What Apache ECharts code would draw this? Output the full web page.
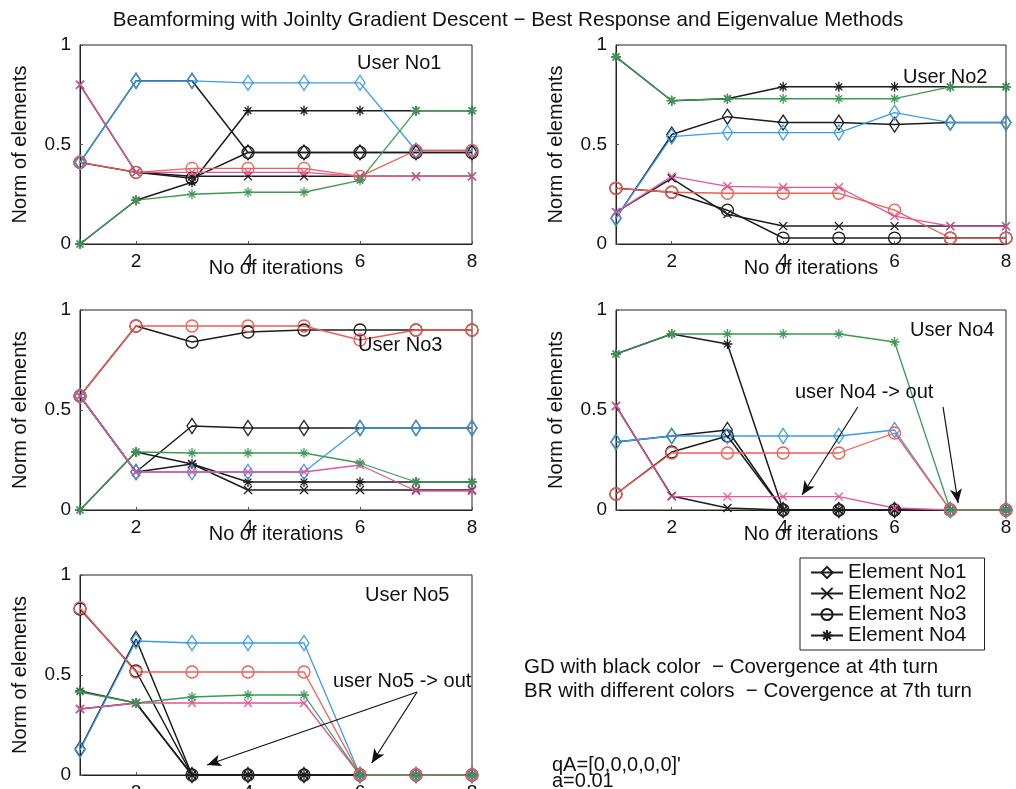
<!DOCTYPE html>
<html><head><meta charset="utf-8">
<script src="https://cdn.jsdelivr.net/npm/echarts@6/dist/echarts.min.js"></script>
<style>html,body{margin:0;padding:0;background:#fff}#c{width:1016px;height:789px}</style>
</head><body><div id="c"></div>
<script>
// ---------- data ----------
const iterations = [1, 2, 3, 4, 5, 6, 7, 8];
const xTickValues = [2, 4, 6, 8];
const elementNames = ['Element No1', 'Element No2', 'Element No3', 'Element No4'];
const userLabels = ['User No1', 'User No2', 'User No3', 'User No4', 'User No5'];
const chartTitle = 'Beamforming with Joinlty Gradient Descent \u2212 Best Response and Eigenvalue Methods';

// GD (black) – rows: element 1..4
const user1GD = [
  [0.41, 0.82, 0.82, 0.46, 0.46, 0.46, 0.46, 0.46],
  [0.80, 0.36, 0.34, 0.34, 0.34, 0.34, 0.34, 0.34],
  [0.41, 0.36, 0.33, 0.46, 0.46, 0.46, 0.46, 0.46],
  [0.00, 0.22, 0.31, 0.67, 0.67, 0.67, 0.67, 0.67]
];
const user2GD = [
  [0.13, 0.55, 0.64, 0.61, 0.61, 0.60, 0.61, 0.61],
  [0.16, 0.33, 0.15, 0.09, 0.09, 0.09, 0.09, 0.09],
  [0.28, 0.26, 0.17, 0.03, 0.03, 0.03, 0.03, 0.03],
  [0.94, 0.72, 0.73, 0.79, 0.79, 0.79, 0.79, 0.79]
];
const user3GD = [
  [0.57, 0.19, 0.42, 0.41, 0.41, 0.41, 0.41, 0.41],
  [0.57, 0.19, 0.23, 0.10, 0.10, 0.10, 0.10, 0.10],
  [0.57, 0.92, 0.84, 0.89, 0.90, 0.90, 0.90, 0.90],
  [0.00, 0.29, 0.23, 0.14, 0.14, 0.14, 0.14, 0.14]
];
const user4GD = [
  [0.34, 0.37, 0.40, 0.00, 0.00, 0.00, 0.00, 0.00],
  [0.52, 0.07, 0.01, 0.00, 0.00, 0.00, 0.00, 0.00],
  [0.08, 0.29, 0.37, 0.00, 0.00, 0.00, 0.00, 0.00],
  [0.78, 0.88, 0.83, 0.00, 0.00, 0.00, 0.00, 0.00]
];
const user5GD = [
  [0.13, 0.68, 0.00, 0.00, 0.00, 0.00, 0.00, 0.00],
  [0.33, 0.36, 0.00, 0.00, 0.00, 0.00, 0.00, 0.00],
  [0.83, 0.52, 0.00, 0.00, 0.00, 0.00, 0.00, 0.00],
  [0.42, 0.36, 0.00, 0.00, 0.00, 0.00, 0.00, 0.00]
];

// BR (coloured) – rows: element 1..4
const user1BR = [
  [0.41, 0.82, 0.82, 0.81, 0.81, 0.81, 0.47, 0.47],
  [0.80, 0.36, 0.36, 0.36, 0.36, 0.34, 0.34, 0.34],
  [0.41, 0.36, 0.38, 0.38, 0.38, 0.34, 0.47, 0.47],
  [0.00, 0.22, 0.25, 0.26, 0.26, 0.32, 0.67, 0.67]
];
const user2BR = [
  [0.13, 0.54, 0.56, 0.56, 0.56, 0.66, 0.61, 0.61],
  [0.16, 0.34, 0.29, 0.285, 0.285, 0.14, 0.09, 0.09],
  [0.28, 0.26, 0.255, 0.255, 0.255, 0.17, 0.03, 0.03],
  [0.94, 0.72, 0.73, 0.73, 0.73, 0.73, 0.79, 0.79]
];
const user3BR = [
  [0.57, 0.19, 0.19, 0.19, 0.19, 0.41, 0.41, 0.41],
  [0.57, 0.19, 0.19, 0.19, 0.19, 0.225, 0.095, 0.095],
  [0.57, 0.92, 0.92, 0.92, 0.92, 0.85, 0.90, 0.90],
  [0.00, 0.29, 0.285, 0.285, 0.285, 0.235, 0.14, 0.14]
];
const user4BR = [
  [0.34, 0.37, 0.37, 0.37, 0.37, 0.40, 0.00, 0.00],
  [0.52, 0.067, 0.067, 0.067, 0.067, 0.01, 0.00, 0.00],
  [0.08, 0.285, 0.285, 0.285, 0.285, 0.385, 0.00, 0.00],
  [0.78, 0.88, 0.88, 0.88, 0.88, 0.84, 0.00, 0.00]
];
const user5BR = [
  [0.125, 0.67, 0.66, 0.66, 0.66, 0.00, 0.00, 0.00],
  [0.33, 0.36, 0.36, 0.36, 0.36, 0.00, 0.00, 0.00],
  [0.835, 0.515, 0.515, 0.515, 0.515, 0.00, 0.00, 0.00],
  [0.415, 0.36, 0.39, 0.40, 0.40, 0.00, 0.00, 0.00]
];

// annotation arrows in data units: [fromX, fromY, toX, toY]
const user4Arrows = [[5.34, 0.515, 4.34, 0.075], [6.87, 0.515, 7.14, 0.035]];
const user5Arrows = [[7.02, 0.415, 3.27, 0.05], [7.02, 0.415, 6.21, 0.06]];
const noteLines = [
  'GD with black color  \u2212 Covergence at 4th turn',
  'BR with different colors  \u2212 Covergence at 7th turn'
];
const paramLines = ["qA=[0,0,0,0,0]'", 'a=0.01'];

// ---------- styling / layout ----------
const FONT = '"Liberation Sans", Arial, Helvetica, sans-serif';
const TXT = '#111';
const gridBoxes = [
  { left: 80, top: 45, width: 392, height: 199 },
  { left: 616, top: 45, width: 390, height: 199 },
  { left: 80, top: 310, width: 392, height: 200 },
  { left: 616, top: 310, width: 390, height: 200 },
  { left: 80, top: 575, width: 392, height: 200 }
];
const symbolShapes = [
  'diamond',
  'path://M0,0L10,10M10,0L0,10',
  'circle',
  'path://M5,0L5,10M0,5L10,5M1.6,1.6L8.4,8.4M8.4,1.6L1.6,8.4'
];
const symbolSizes = [[10, 15], 8, 12, 10];
const brColors = ['#3a9ce8', '#e0559f', '#f25c54', '#3d9a55'];
const gdColor = '#1c1c1c';

const gdData = [user1GD, user2GD, user3GD, user4GD, user5GD];
const brData = [user1BR, user2BR, user3BR, user4BR, user5BR];

const grids = [], xAxes = [], yAxes = [], series = [];
gridBoxes.forEach((b, i) => {
  grids.push(Object.assign({ show: true, borderColor: '#222', borderWidth: 1, backgroundColor: '#fff',
    outerBoundsMode: 'none', containLabel: false }, b));
  xAxes.push({
    type: 'value', gridIndex: i, min: 1, max: 8,
    name: 'No of iterations', nameLocation: 'middle', nameGap: 14, nameMoveOverlap: false,
    nameTextStyle: { fontSize: 20, color: TXT, fontFamily: FONT },
    axisLine: { show: true, onZero: false, lineStyle: { color: '#222', width: 1 } },
    axisTick: { show: true, inside: true, length: 3, customValues: xTickValues, lineStyle: { color: '#555' } },
    axisLabel: { show: true, customValues: xTickValues, fontSize: 19, color: TXT, fontFamily: FONT, margin: 8 },
    splitLine: { show: false }
  });
  yAxes.push({
    type: 'value', gridIndex: i, min: 0, max: 1, interval: 0.5,
    name: 'Norm of elements', nameLocation: 'middle', nameGap: 50, nameRotate: 90, nameMoveOverlap: false,
    nameTextStyle: { fontSize: 20, color: TXT, fontFamily: FONT },
    axisLine: { show: true, lineStyle: { color: '#222', width: 1 } },
    axisTick: { show: true, inside: true, length: 3, lineStyle: { color: '#555' } },
    axisLabel: { fontSize: 19, color: TXT, fontFamily: FONT, margin: 9 },
    splitLine: { show: false }
  });
});

function makeSeries(name, u, e, values, color, lw) {
  return {
    type: 'line', name: name, xAxisIndex: u, yAxisIndex: u,
    data: iterations.map((x, k) => [x, values[k]]),
    symbol: symbolShapes[e], symbolSize: symbolSizes[e], showAllSymbol: true,
    lineStyle: { color: color, width: lw },
    itemStyle: { color: 'rgba(0,0,0,0)', borderColor: color, borderWidth: 1.3 },
    emphasis: { disabled: true }, animation: false, silent: true
  };
}

// GD series first, BR drawn on top
gdData.forEach((rows, u) => rows.forEach((vals, e) => {
  const nm = u === 0 ? elementNames[e] : 'GD U' + (u + 1) + ' E' + (e + 1);
  series.push(makeSeries(nm, u, e, vals, gdColor, 1.5));
}));
brData.forEach((rows, u) => rows.forEach((vals, e) => {
  series.push(makeSeries('BR U' + (u + 1) + ' E' + (e + 1), u, e, vals, brColors[e], 1.3));
}));

function arrowSeries(u, arrows) {
  return {
    type: 'line', name: 'arrows' + u, xAxisIndex: u, yAxisIndex: u, data: [], silent: true, animation: false,
    markLine: {
      silent: true, animation: false, symbol: ['none', 'arrow'], symbolSize: [9, 14],
      label: { show: false },
      lineStyle: { color: '#111', width: 1.2, type: 'solid' },
      data: arrows.map(a => [{ coord: [a[0], a[1]] }, { coord: [a[2], a[3]] }])
    }
  };
}
series.push(arrowSeries(3, user4Arrows));
series.push(arrowSeries(4, user5Arrows));

function txt(x, y, s, size) {
  return { type: 'text', x: x, y: y, silent: true, z: 100,
    style: { text: s, fill: TXT, font: (size || 20) + 'px ' + FONT, textAlign: 'left', textVerticalAlign: 'middle' } };
}
const userPos = [[357, 63], [903, 77], [358, 345], [910, 330], [365, 595]];
const graphics = userLabels.map((s, i) => txt(userPos[i][0], userPos[i][1], s));
graphics.push(txt(795, 392, 'user No4 -> out'));
graphics.push(txt(333, 681, 'user No5 -> out'));
graphics.push(txt(524, 667, noteLines[0], 20.5));
graphics.push(txt(524, 691, noteLines[1], 20.5));
graphics.push(txt(552, 765, paramLines[0]));
graphics.push(txt(552, 781, paramLines[1]));

const chart = echarts.init(document.getElementById('c'), null, { renderer: 'canvas' });
chart.setOption({
  backgroundColor: '#fff',
  animation: false,
  title: { text: chartTitle, left: 'center', top: 5,
    textStyle: { fontSize: 20.6, fontWeight: 'normal', color: TXT, fontFamily: FONT } },
  legend: {
    data: elementNames, orient: 'vertical', left: 800, top: 558,
    backgroundColor: '#fff', borderColor: '#222', borderWidth: 1, borderRadius: 0,
    padding: [4, 18, 4, 10], itemGap: 0, itemWidth: 32, itemHeight: 14,
    textStyle: { fontSize: 20.5, color: TXT, fontFamily: FONT },
    selectedMode: false
  },
  grid: grids, xAxis: xAxes, yAxis: yAxes, series: series, graphic: graphics
});
</script>
</body></html>
